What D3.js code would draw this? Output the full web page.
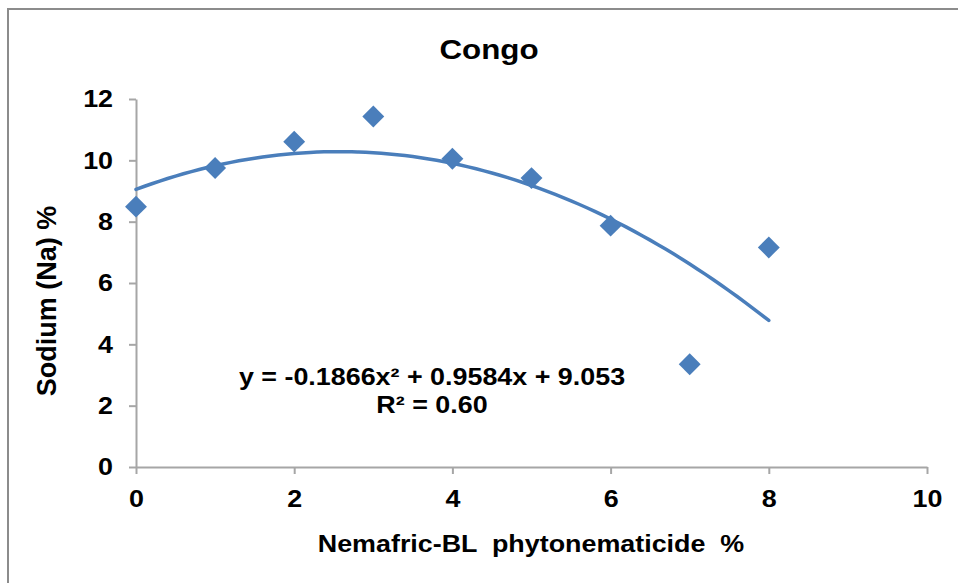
<!DOCTYPE html>
<html lang="en">
<head>
<meta charset="utf-8" />
<title>Congo</title>
<script src="https://cdn.jsdelivr.net/npm/d3@7"></script>
<style>
  body { margin: 0; background: #fff; }
  text { font-family: "Liberation Sans", Arial, sans-serif; font-weight: bold; fill: #000; }
</style>
</head>
<body>
<div id="chart"></div>
<script>
"use strict";

// data
let doses = [0, 1, 2, 3, 4, 5, 6, 7, 8]
let sodium = [8.49, 9.75, 10.61, 11.43, 10.05, 9.42, 7.87, 3.35, 7.16]
// trendline coefficients as printed on the chart (a x^2 + b x + c)
let trendCoef = [-0.1866, 0.9584, 9.053]
let trendLabel = ["y = -0.1866x² + 0.9584x + 9.053", "R² = 0.60"]
let xTicks = [0, 2, 4, 6, 8, 10]
let yTicks = [0, 2, 4, 6, 8, 10, 12]

let width = 958, height = 583
let margin = {top: 99, right: 31, bottom: 116, left: 136}
let blue = "#4a7ebb", axisGrey = "#a6a6a6"
let stretch = 1.12   // the source text is a little wider than Arial

let svg = d3.select("#chart").append("svg")
    .attr("width", width)
    .attr("height", height)

// outer chart frame (cropped at right and bottom)
svg.append("rect")
    .attr("x", 8).attr("y", 9)
    .attr("width", 1000).attr("height", 1000)
    .attr("fill", "none")
    .attr("stroke", "#8c8c8c")
    .attr("stroke-width", 2)

let x = d3.scaleLinear().domain([0, 10]).range([margin.left, width - margin.right])
let y = d3.scaleLinear().domain([0, 12]).range([height - margin.bottom, margin.top])

// axes
let xAxis = svg.append("g")
    .attr("transform", `translate(0,${y(0)})`)
    .call(d3.axisBottom(x).tickValues(xTicks).tickSize(7).tickPadding(16).tickSizeOuter(0))
let yAxis = svg.append("g")
    .attr("transform", `translate(${x(0)},0)`)
    .call(d3.axisLeft(y).tickValues(yTicks).tickSize(7).tickPadding(13.5).tickSizeOuter(0))

for (let a of [xAxis, yAxis]) {
  a.select(".domain").attr("stroke", axisGrey).attr("stroke-width", 2)
  a.selectAll(".tick line").attr("stroke", axisGrey).attr("stroke-width", 2)
  a.selectAll(".tick text")
      .attr("font-family", "Liberation Sans, Arial, sans-serif")
      .attr("font-size", 24)
      .attr("font-weight", "bold")
      .attr("fill", "#000")
      .attr("transform", `scale(${stretch},1)`)
}

// polynomial trendline from the printed coefficients
let poly = v => trendCoef[0] * v * v + trendCoef[1] * v + trendCoef[2]
let trendX = d3.range(0, 8.001, 0.1)
let line = d3.line()
    .x(v => x(v))
    .y(v => y(poly(v)))
    .curve(d3.curveMonotoneX)

svg.append("path")
    .datum(trendX)
    .attr("fill", "none")
    .attr("stroke", blue)
    .attr("stroke-width", 3.5)
    .attr("stroke-linecap", "round")
    .attr("d", line)

// diamond markers
let diamond = d3.symbol().type(d3.symbolSquare).size(240)
svg.append("g").selectAll("path")
  .data(doses)
  .join("path")
    .attr("d", diamond)
    .attr("transform", (d, i) => `translate(${x(d)},${y(sodium[i])}) rotate(45)`)
    .attr("fill", blue)

// trendline label
svg.append("text")
    .attr("transform", `translate(432,385) scale(${stretch},1)`)
    .attr("text-anchor", "middle")
    .attr("font-size", 24)
  .selectAll("tspan")
  .data(trendLabel)
  .join("tspan")
    .attr("x", 0)
    .attr("dy", (d, i) => i == 0 ? 0 : 28)
    .text(d => d)

// titles
svg.append("text")
    .attr("transform", `translate(489,59) scale(${stretch},1)`)
    .attr("text-anchor", "middle")
    .attr("font-size", 28)
    .text("Congo")

svg.append("text")
    .attr("transform", `translate(531,552) scale(${stretch},1)`)
    .attr("text-anchor", "middle")
    .attr("font-size", 24)
    .style("white-space", "pre")
    .text("Nemafric-BL  phytonematicide  %")

svg.append("text")
    .attr("transform", "translate(56,301) rotate(-90)")
    .attr("text-anchor", "middle")
    .attr("font-size", 27)
    .text("Sodium (Na) %")
</script>
</body>
</html>
